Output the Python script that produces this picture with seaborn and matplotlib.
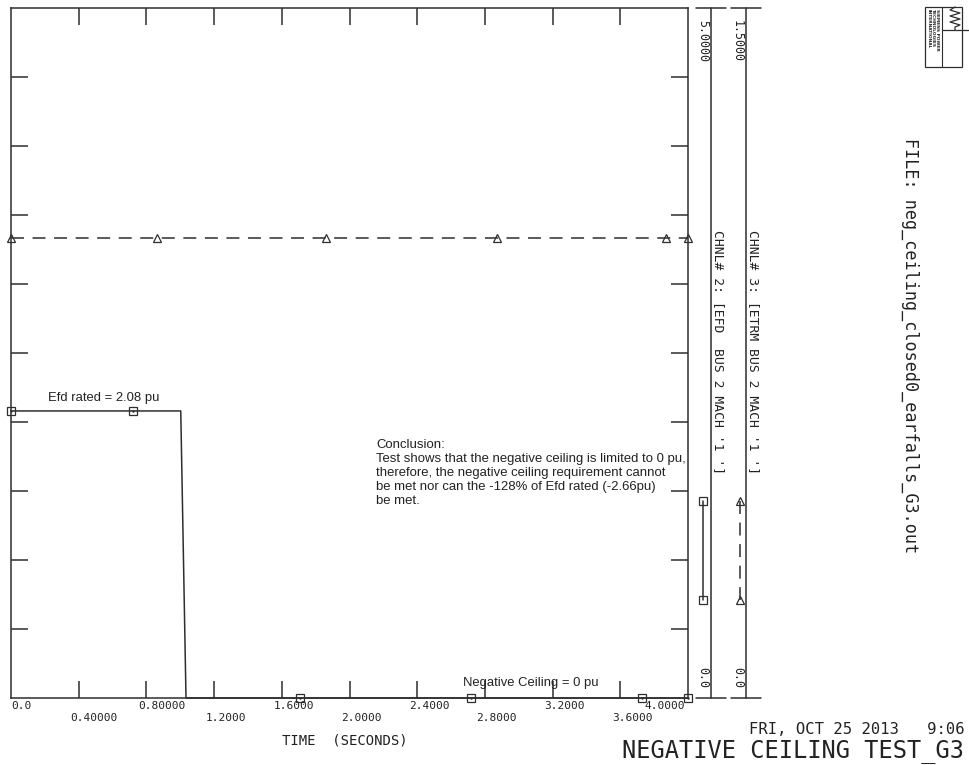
import matplotlib
matplotlib.use("Agg")
import matplotlib.pyplot as plt
import seaborn as sns
from matplotlib.lines import Line2D
from matplotlib.patches import Rectangle
from matplotlib.transforms import offset_copy

# ---- simulation channels -------------------------------------------------
# Channel 2: field voltage EFD (pu), plotted on a 0 - 5.0 scale
efd_time = [0.0, 0.72, 1.003, 1.034, 1.71, 2.72, 3.73, 4.0]
efd_value = [2.08, 2.08, 2.08, 0.0, 0.0, 0.0, 0.0, 0.0]
efd_marked = [0, 1, 4, 5, 6, 7]

# Channel 3: terminal voltage ETRM (pu), plotted on a 0 - 1.5 scale
etrm_time = [0.0, 0.86, 1.86, 2.87, 3.87, 4.0]
etrm_value = [1.0, 1.0, 1.0, 1.0, 1.0, 1.0]

# ---- axes ----------------------------------------------------------------
time_ticks = [0.0, 0.4, 0.8, 1.2, 1.6, 2.0, 2.4, 2.8, 3.2, 3.6, 4.0]
time_tick_labels = ["0.0", "0.40000", "0.80000", "1.2000", "1.6000", "2.0000",
                    "2.4000", "2.8000", "3.2000", "3.6000", "4.0000"]
efd_range = [0.0, 5.0]
etrm_range = [0.0, 1.5]
efd_grid = [0.5, 1.0, 1.5, 2.0, 2.5, 3.0, 3.5, 4.0, 4.5]
efd_range_labels = ["0.0", "5.0000"]
etrm_range_labels = ["0.0", "1.5000"]
channel_labels = ["CHNL# 2: [EFD  BUS 2 MACH '1 ']",
                  "CHNL# 3: [ETRM BUS 2 MACH '1 ']"]

conclusion_lines = [
    "Conclusion:",
    "Test shows that the negative ceiling is limited to 0 pu,",
    "therefore, the negative ceiling requirement cannot",
    "be met nor can the -128% of Efd rated (-2.66pu)",
    "be met.",
]

INK = "#2e2e2e"
TXT = "#222222"
MONO = ["DejaVu Sans Mono"]
SANS = ["Liberation Sans", "DejaVu Sans"]

sns.set_style("white")
plt.rcParams["font.family"] = MONO

W, H = 969, 765
fig = plt.figure(figsize=(W / 100, H / 100), dpi=100)
fig.patch.set_facecolor("white")


def fx(x):
    return x / W


def fy(y):
    return 1 - y / H


# main plotting area
ax = fig.add_axes([fx(11), fy(698), 677 / W, 690 / H])
ax.set_facecolor("white")
ax2 = ax.twinx()

sns.lineplot(x=efd_time, y=efd_value, ax=ax, color=INK, linewidth=1.1,
             estimator=None, sort=False, marker="s", markevery=efd_marked,
             markersize=5.2, markerfacecolor="none", markeredgecolor=INK,
             markeredgewidth=0.9, clip_on=False, zorder=4)
sns.scatterplot(x=[efd_time[i] for i in efd_marked],
                y=[efd_value[i] for i in efd_marked],
                ax=ax, color=INK, s=3, linewidth=0, zorder=5, clip_on=False)

sns.lineplot(x=etrm_time, y=etrm_value, ax=ax2, color=INK, linewidth=1.1,
             estimator=None, sort=False, linestyle=(0, (8.5, 5.6)),
             marker="^", markersize=5.2, markerfacecolor="none",
             markeredgecolor=INK, markeredgewidth=0.9, clip_on=False)

ax.set_xlim(time_ticks[0], time_ticks[-1])
ax.set_ylim(*efd_range)
ax2.set_ylim(*etrm_range)
ax2.set_axis_off()
ax.set_xlabel("")
ax.set_ylabel("")

for s in ax.spines.values():
    s.set_visible(True)
    s.set_color(INK)
    s.set_linewidth(1.1)

ax.set_xticks(time_ticks[1:-1])
ax.set_yticks(efd_grid)
ax.tick_params(axis="both", which="both", direction="in", length=12.2,
               width=1.1, color=INK, top=True, right=True, bottom=True,
               left=True, labelbottom=False, labelleft=False)

# staggered time labels
for i, (t, lab) in enumerate(zip(time_ticks, time_tick_labels)):
    row = i % 2
    if i == 0:
        dx, ha = 0, "left"
    elif i == len(time_ticks) - 1:
        dx, ha = -3, "right"
    else:
        dx, ha = -8.5, "left"
    tr = offset_copy(ax.get_xaxis_transform(), fig=fig, x=dx,
                     y=-(3 + 12 * row), units="dots")
    ax.text(t, 0, lab, transform=tr, ha=ha, va="top", fontsize=8,
            color=TXT, family=MONO)

fig.text(fx(282), fy(744), "TIME  (SECONDS)", fontsize=10, color=TXT,
         ha="left", va="baseline", family=MONO)

# annotations
ax.text(0.219, 2.152, "Efd rated = 2.08 pu", fontsize=9.4, color=TXT,
        family=SANS, ha="left", va="baseline")
ax.text(2.671, 0.087, "Negative Ceiling = 0 pu", fontsize=9.4, color=TXT,
        family=SANS, ha="left", va="baseline")
for i, line in enumerate(conclusion_lines):
    tr = offset_copy(ax.transData, fig=fig, x=0, y=-14 * i, units="dots")
    ax.text(2.157, 1.812, line, transform=tr, fontsize=9.45, color=TXT,
            family=SANS, ha="left", va="baseline")

# ---- channel scale bars on the right -------------------------------------
def fig_line(xs, ys, **kw):
    fig.add_artist(Line2D([fx(x) for x in xs], [fy(y) for y in ys],
                          transform=fig.transFigure, **kw))


for cx, rng, lab in [(711, efd_range_labels, channel_labels[0]),
                     (746, etrm_range_labels, channel_labels[1])]:
    fig_line([cx, cx], [8, 698], color=INK, lw=1.1)
    fig_line([cx - 15, cx + 15], [8, 8], color=INK, lw=1.1)
    fig_line([cx - 15, cx + 15], [698, 698], color=INK, lw=1.1)
    fig.text(fx(cx - 8.5), fy(20), rng[1], rotation=-90, rotation_mode="anchor",
             ha="left", va="center", fontsize=8.4, color=TXT, family=MONO)
    fig.text(fx(cx - 8.5), fy(688), rng[0], rotation=-90, rotation_mode="anchor",
             ha="right", va="center", fontsize=8.4, color=TXT, family=MONO)
    fig.text(fx(cx + 7), fy(230), lab, rotation=-90, rotation_mode="anchor",
             ha="left", va="center", fontsize=9.4, color=TXT, family=MONO)

# legend keys beside each scale bar
fig_line([703, 703], [501, 600], color=INK, lw=1.1, marker="s",
         markersize=5.2, markerfacecolor="none", markeredgecolor=INK,
         markeredgewidth=0.9)
fig_line([740, 740], [501, 600], color=INK, lw=1.1, linestyle=(0, (8.5, 5.6)),
         marker="^", markersize=5.2, markerfacecolor="none",
         markeredgecolor=INK, markeredgewidth=0.9)

# file name
fig.text(fx(910), fy(138), "FILE: neg_ceiling_closed0_earfalls_G3.out",
         rotation=-90, rotation_mode="anchor", ha="left", va="center",
         fontsize=12.1, color=TXT, family=MONO)

# company badge
fig.add_artist(Rectangle((fx(925), fy(67)), 37 / W, 60 / H,
                         transform=fig.transFigure, fill=False,
                         edgecolor=INK, lw=0.9))
for k, word in enumerate(["INTERNATIONAL", "TECHNOLOGIES", "SIEMENS POWER"]):
    fig.text(fx(928.5 + 4.5 * k), fy(9), word, rotation=-90,
             rotation_mode="anchor", ha="left", va="center", fontsize=3.2,
             color=TXT, family=["DejaVu Sans"], weight="bold")
fig_line([942, 942], [7, 67], color=INK, lw=0.8)
fig_line([955, 950, 960, 950, 960, 950, 960, 955, 955],
         [7, 10, 13, 16, 19, 22, 25, 27, 30], color=INK, lw=0.9)
fig_line([942, 969], [30, 30], color=INK, lw=0.9)

# run stamp and title
fig.text(fx(965), fy(734), "FRI, OCT 25 2013   9:06", ha="right",
         va="baseline", fontsize=11.2, color=TXT, family=MONO)
fig.text(fx(964), fy(757), "NEGATIVE CEILING TEST_G3", ha="right",
         va="baseline", fontsize=17, color=TXT, family=MONO)

fig.savefig("out.png", dpi=100, facecolor="white")
